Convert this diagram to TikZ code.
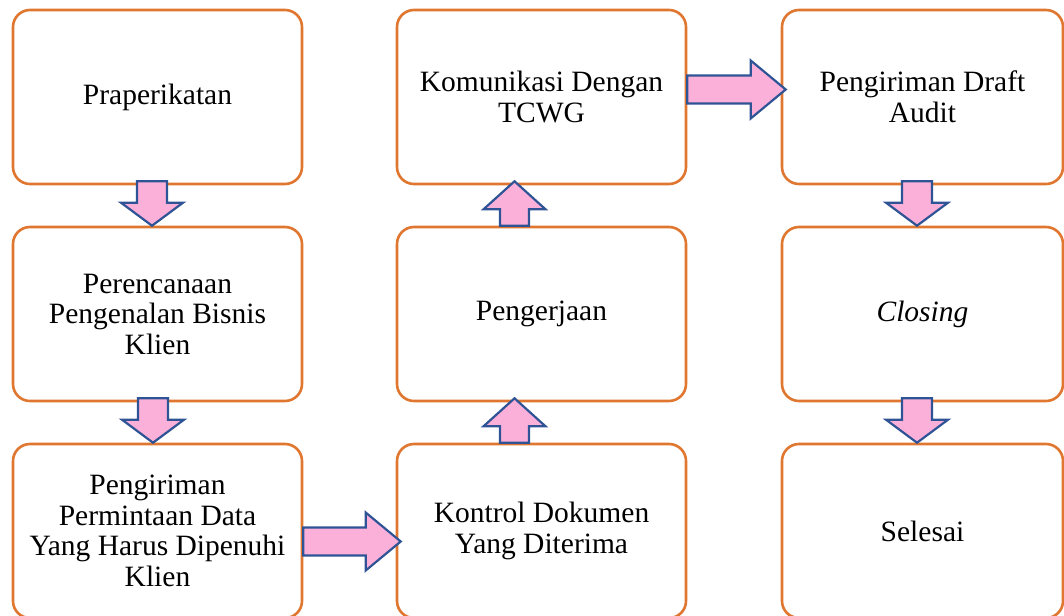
\documentclass[tikz,border=0pt]{standalone}
\usepackage{fontspec}
\setmainfont{Liberation Serif}
\usetikzlibrary{calc}
\definecolor{boxorange}{HTML}{E07730}
\definecolor{arrowpink}{HTML}{FBB0DA}
\definecolor{arrowblue}{HTML}{2F5496}
\tikzset{
  stepbox/.style={draw=boxorange, line width=2.6pt, fill=white, rounded corners=17pt,
    minimum width=289pt, minimum height=174pt, align=center, inner sep=0pt,
    font=\fontsize{29.5}{30.5}\selectfont},
  blockarrow/.style={draw=arrowblue, fill=arrowpink, line width=2.2pt, line join=miter}
}
% down block arrow from node #1 to node #2, shaft centre x = #3 (pt)
\newcommand{\blkdown}[3]{%
  \draw[blockarrow] let \p1=(#1.south), \p2=(#2.north) in
    (#3pt-15pt,\y1+4pt) -- (#3pt+15pt,\y1+4pt) -- (#3pt+15pt,\y2+23pt) -- (#3pt+31pt,\y2+23pt)
    -- (#3pt,\y2) -- (#3pt-31pt,\y2+23pt) -- (#3pt-15pt,\y2+23pt) -- cycle;}
% up block arrow from node #1 (below) to node #2 (above)
\newcommand{\blkup}[3]{%
  \draw[blockarrow] let \p1=(#1.north), \p2=(#2.south) in
    (#3pt-14.5pt,\y1) -- (#3pt+14.5pt,\y1) -- (#3pt+14.5pt,\y2-24pt) -- (#3pt+31pt,\y2-24pt)
    -- (#3pt,\y2+4pt) -- (#3pt-31pt,\y2-24pt) -- (#3pt-14.5pt,\y2-24pt) -- cycle;}
% right block arrow from node #1 to node #2, centre y = #3 (pt, canvas)
\newcommand{\blkright}[3]{%
  \draw[blockarrow] let \p1=(#1.east), \p2=(#2.west) in
    (\x1,#3pt-14pt) -- (\x2-30pt,#3pt-14pt) -- (\x2-30pt,#3pt-29pt) -- (\x2+5pt,#3pt)
    -- (\x2-30pt,#3pt+29pt) -- (\x2-30pt,#3pt+14pt) -- (\x1,#3pt+14pt) -- cycle;}
\begin{document}
\begin{tikzpicture}[x=1pt,y=-1pt]
\useasboundingbox (0,0) rectangle (1064,615);
\begin{scope}
\clip (0,0) rectangle (1064,615);
\node[stepbox] (A) at (157.5,97) {Praperikatan};
\node[stepbox] (B) at (157.5,314) {Perencanaan\\Pengenalan Bisnis\\Klien};
\node[stepbox] (C) at (157.5,531) {Pengiriman\\Permintaan Data\\Yang Harus Dipenuhi\\Klien};
\node[stepbox] (D) at (541.5,531) {Kontrol Dokumen\\Yang Diterima};
\node[stepbox] (E) at (541.5,314) {Pengerjaan};
\node[stepbox] (F) at (541.5,97) {Komunikasi Dengan\\TCWG};
\node[stepbox, minimum width=281pt] (G) at (922.5,97) {Pengiriman Draft\\Audit};
\node[stepbox, minimum width=281pt] (H) at (922.5,314) {\itshape Closing};
\node[stepbox, minimum width=281pt] (I) at (922.5,531) {Selesai};
\end{scope}
\blkdown{A}{B}{152}
\blkdown{B}{C}{153}
\blkup{D}{E}{514.5}
\blkup{E}{F}{514.5}
\blkright{F}{G}{-89.5}
\blkright{C}{D}{-541.5}
\blkdown{G}{H}{917}
\blkdown{H}{I}{917}
\end{tikzpicture}
\end{document}
